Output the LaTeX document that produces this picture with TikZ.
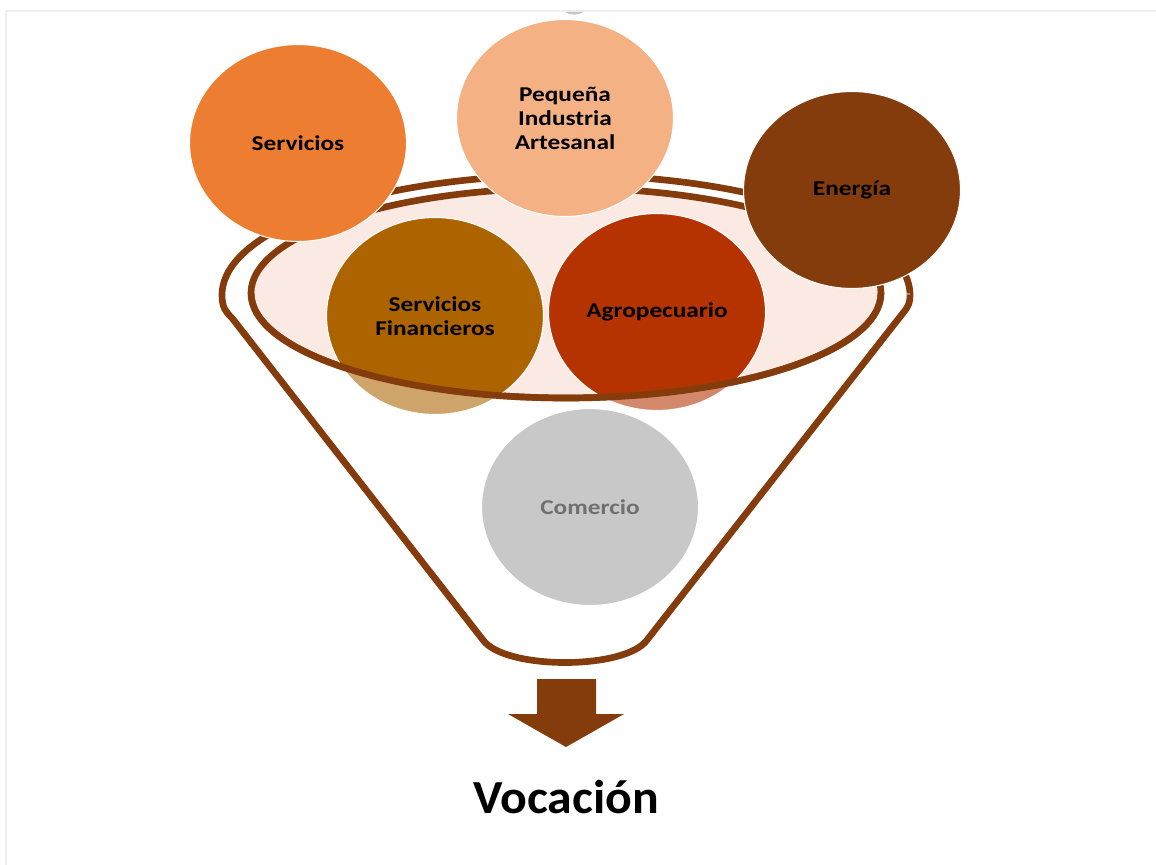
\documentclass[tikz,border=0pt]{standalone}
\usepackage{fontspec}
\setmainfont{Carlito}
\newfontfamily\bubblefont{Carlito}[FakeStretch=1.2]
\newfontfamily\titlefont{Carlito}[FakeStretch=1.05]
\usetikzlibrary{shapes.geometric}
\definecolor{rust}{RGB}{132,60,12}
\definecolor{tangerine}{RGB}{237,125,49}
\definecolor{peach}{RGB}{244,177,131}
\definecolor{ochre}{RGB}{173,99,0}
\definecolor{brick}{RGB}{180,51,0}
\definecolor{silver}{RGB}{200,200,200}
\definecolor{slate}{RGB}{112,112,112}
\definecolor{blush}{RGB}{250,234,227}
\definecolor{edge}{RGB}{238,238,238}

\begin{document}
\begin{tikzpicture}[x=0.02cm, y=-0.02cm,
  bubble/.style={ellipse, draw=white, line width=0.6pt, inner sep=0pt,
    minimum width=4.34cm, minimum height=3.94cm, align=center,
    font=\bubblefont\bfseries\fontsize{12}{13.6}\selectfont},
  rim/.style={draw=rust, line width=3.8pt}]
\fill[white] (0,0) rectangle (1156,865);
\useasboundingbox (0,0) rectangle (1156,865);

% Frame
\draw[edge, line width=1.1pt] (1156,11) -- (6,11) -- (6,865);
\fill[gray!45] (565,12) .. controls (569,15.5) and (579,15.5) .. (583,12) -- cycle;

% Funnel back
\draw[rim] (222,295) arc[start angle=180, end angle=360, x radius=344, y radius=120];
\draw[rim, fill=blush] (566,293) ellipse[x radius=315, y radius=105];

% Sectors on top
\node[bubble, fill=tangerine] (servicios) at (298,143) {Servicios};
\node[bubble, fill=peach] (pequena) at (565,118) {Pequeña\\Industria\\Artesanal};
\node[bubble, fill=rust] (energia) at (852,190) {Energía};

% Sectors in the funnel
\node[bubble, fill=ochre] (financieros) at (435,316) {Servicios\\Financieros};
\node[bubble, fill=brick] (agro) at (657,312) {Agropecuario};

% Funnel front
\begin{scope}
\clip (230,293) rectangle (910,440);
\fill[white, opacity=0.42, even odd rule] (230,200) rectangle (910,440)
  (566,293) ellipse[x radius=315, y radius=105];
\end{scope}
\draw[rim] (251,293) arc[start angle=180, end angle=0, x radius=315, y radius=105];
\draw[rim] (222,295) .. controls (222,308) and (226,312) .. (232,318)
  -- (483,640) .. controls (505,670) and (625,670) .. (647,640)
  -- (903,313) .. controls (909,306) and (910,302) .. (910,295);

% Output
\node[bubble, fill=silver, text=slate] (comercio) at (590,507) {Comercio};
\fill[rust] (537,679) -- (596,679) -- (596,714) -- (624,714) -- (566,747)
  -- (508,714) -- (537,714) -- cycle;
\node[anchor=base, font=\titlefont\bfseries\fontsize{27}{30}\selectfont] (vocacion) at (566,813) {Vocación};
\end{tikzpicture}
\end{document}
